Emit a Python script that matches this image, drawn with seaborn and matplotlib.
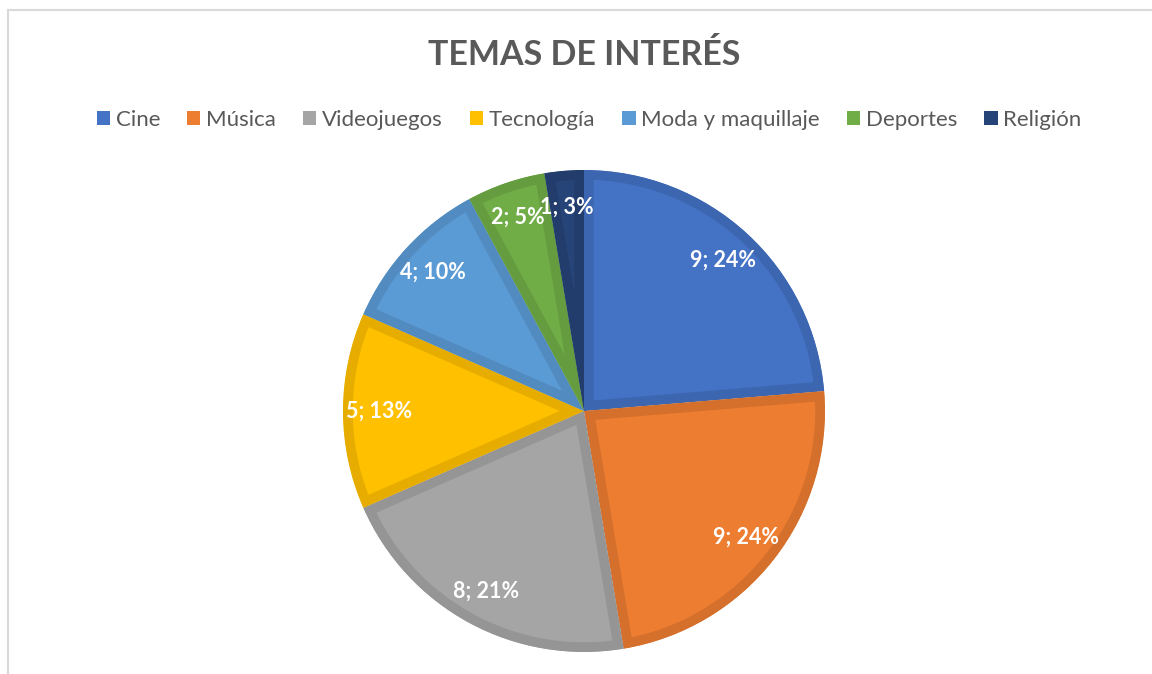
import numpy as np
import matplotlib
matplotlib.use("Agg")
import matplotlib.pyplot as plt
from matplotlib.patches import Patch, Rectangle
import seaborn as sns

# data
temas = ["Cine", "Música", "Videojuegos", "Tecnología", "Moda y maquillaje", "Deportes", "Religión"]
conteo = [9, 9, 8, 5, 4, 2, 1]
porcentaje = [24, 24, 21, 13, 10, 5, 3]  # as printed by Excel (rounded to sum 100)

sns.set_theme(style="white")
plt.rcParams['font.family'] = ['Lato', 'DejaVu Sans']

# Office theme colours + the darker inner border of each slice
colores = sns.color_palette(["#4472C4", "#ED7D31", "#A5A5A5", "#FFC000", "#5B9BD5", "#70AD47", "#264478"])
bordes = sns.color_palette(["#3D66B0", "#D4702C", "#959595", "#E6AD00", "#528BC0", "#659C40", "#223D6C"])

W, H = 1152, 674
fig = plt.figure(figsize=(W / 100, H / 100), dpi=100)

# chart area frame (only top and left edges visible in the crop)
fig.patches.append(Rectangle((8 / W, -0.1), 1.2, 1 - 10 / H + 0.1, transform=fig.transFigure,
                             fill=False, edgecolor="#D9D9D9", linewidth=1.5))

# pie centred at (584, 411) px, radius 241 px
cx, cy, r = 584, 411, 241
ax = fig.add_axes([(cx - r) / W, (H - cy - r) / H, 2 * r / W, 2 * r / H])

etiquetas = iter(["{}; {}%".format(c, p) for c, p in zip(conteo, porcentaje)])
wedges, textos, autotextos = ax.pie(conteo, colors=colores, startangle=90, counterclock=False,
                                    autopct=lambda pct: next(etiquetas), pctdistance=0.85,
                                    wedgeprops=dict(linewidth=14, joinstyle="miter"),
                                    textprops=dict(color="white", fontsize=15.5, fontweight="bold"))
for w, b in zip(wedges, bordes):
    w.set_edgecolor(b)
    w.set_clip_on(True)
    w.set_clip_path(w)  # keep only the inner half of the stroke
for t in autotextos:
    t.set_zorder(5)
ax.set_xlim(-1, 1)
ax.set_ylim(-1, 1)
ax.set_aspect("equal")
ax.axis("off")

fig.text(584 / W, 1 - 55 / H, "TEMAS DE INTERÉS", ha="center", va="center",
         fontsize=24.5, fontweight="bold", color="#595959")

handles = [Patch(facecolor=c, edgecolor="none") for c in colores]
fig.legend(handles, temas, loc="center", bbox_to_anchor=(589 / W, 1 - 120 / H), ncol=7,
           frameon=False, fontsize=16, handlelength=0.6, handleheight=0.6,
           handletextpad=0.25, columnspacing=1.22, labelcolor="#595959")

fig.savefig("out.png", dpi=100)
